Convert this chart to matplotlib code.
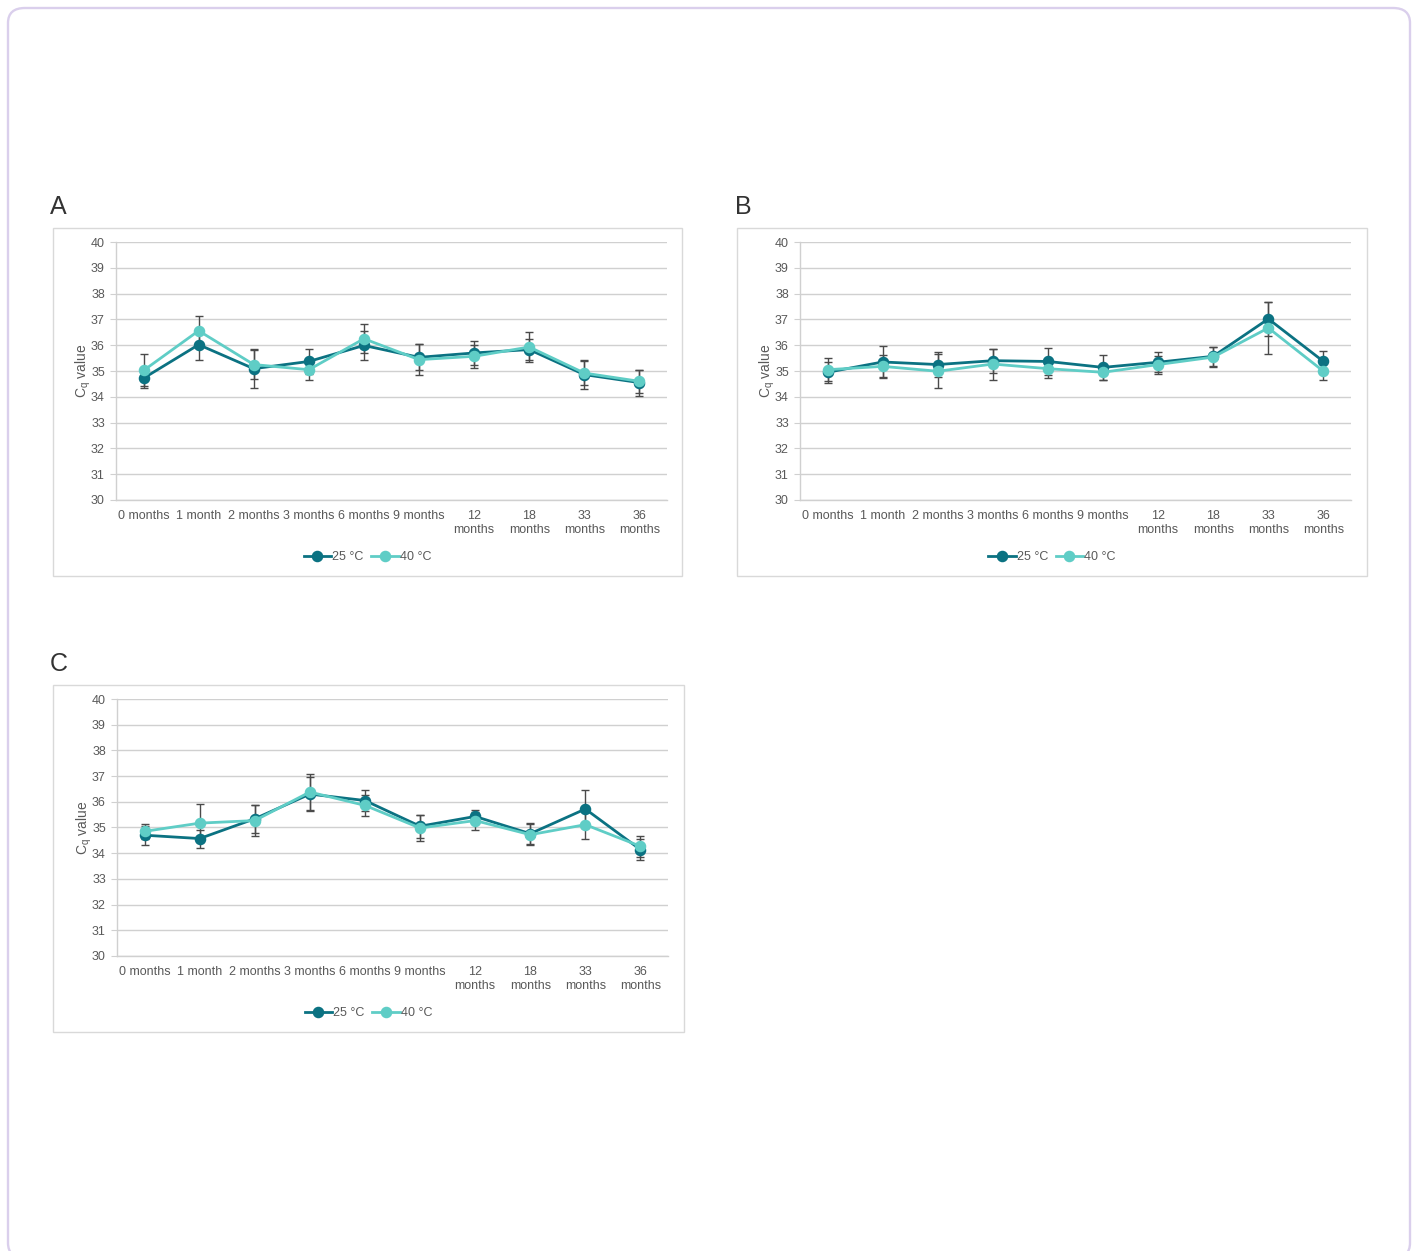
import matplotlib
matplotlib.use("Agg")
import matplotlib.pyplot as plt
from matplotlib.patches import FancyBboxPatch, Rectangle
from matplotlib.lines import Line2D

plt.rcParams['font.family'] = ['Liberation Sans', 'DejaVu Sans']
plt.rcParams['mathtext.fontset'] = 'custom'
plt.rcParams['mathtext.rm'] = 'Liberation Sans'
plt.rcParams['mathtext.it'] = 'Liberation Sans'

# Storage time points
timepoints = ["0 months", "1 month", "2 months", "3 months", "6 months", "9 months",
              "12\nmonths", "18\nmonths", "33\nmonths", "36\nmonths"]
series_labels = ["25 °C", "40 °C"]

# Panel A: mean Cq and standard deviation
a_25 = [34.72, 36.02, 35.09, 35.37, 35.99, 35.53, 35.70, 35.83, 34.86, 34.55]
a_25_sd = [0.38, 0.58, 0.75, 0.50, 0.55, 0.50, 0.47, 0.42, 0.55, 0.50]
a_40 = [35.02, 36.56, 35.25, 35.05, 36.25, 35.44, 35.57, 35.93, 34.92, 34.60]
a_40_sd = [0.62, 0.58, 0.55, 0.40, 0.57, 0.60, 0.45, 0.57, 0.48, 0.45]

# Panel B
b_25 = [34.95, 35.35, 35.25, 35.40, 35.37, 35.14, 35.34, 35.57, 37.02, 35.37]
b_25_sd = [0.40, 0.60, 0.50, 0.47, 0.52, 0.47, 0.38, 0.37, 0.65, 0.40]
b_40 = [35.05, 35.18, 34.99, 35.27, 35.09, 34.95, 35.25, 35.54, 36.67, 34.99]
b_40_sd = [0.45, 0.45, 0.65, 0.60, 0.35, 0.30, 0.35, 0.38, 1.00, 0.32]

# Panel C
c_25 = [34.70, 34.57, 35.34, 36.30, 36.05, 35.05, 35.43, 34.76, 35.72, 34.14]
c_25_sd = [0.37, 0.35, 0.55, 0.65, 0.40, 0.45, 0.27, 0.40, 0.75, 0.40]
c_40 = [34.85, 35.17, 35.27, 36.38, 35.86, 34.98, 35.27, 34.72, 35.11, 34.27]
c_40_sd = [0.30, 0.75, 0.60, 0.70, 0.42, 0.50, 0.35, 0.40, 0.55, 0.40]

panels = [
    ("A", a_25, a_25_sd, a_40, a_40_sd),
    ("B", b_25, b_25_sd, b_40, b_40_sd),
    ("C", c_25, c_25_sd, c_40, c_40_sd),
]

W, H = 1416, 1251
fig = plt.figure(figsize=(W / 100, H / 100), dpi=100)

def fx(px):
    return px / W

def fy(py):
    return 1 - py / H

DARK = "#0b7282"
LIGHT = "#5fcdc6"
TEXT = "#595959"
GRID = "#d0d0d0"
ERR = "#4a4a4a"

# Rounded outer frame
frame = FancyBboxPatch((fx(8), fy(1258)), fx(1402), (1250) / H,
                       boxstyle="round,pad=0,rounding_size=0.012",
                       transform=fig.transFigure, fill=False,
                       edgecolor="#dacfec", linewidth=1.7, clip_on=False)
fig.patches.append(frame)

# Layout per panel: (chart box l, t, r, b), (plot area l, t, r, b), letter position
layout = {
    "A": ((53, 228, 682, 576), (116, 242, 667, 500), (50, 214)),
    "B": ((737, 228, 1367, 576), (800, 242, 1351, 500), (735, 214)),
    "C": ((53, 685, 684, 1032), (117, 699, 668, 956), (50, 671)),
}

x = list(range(len(timepoints)))

for name, v25, s25, v40, s40 in panels:
    box, area, letter = layout[name]
    bl, bt, br, bb = box
    fig.patches.append(Rectangle((fx(bl), fy(bb)), (br - bl) / W, (bb - bt) / H,
                                 transform=fig.transFigure, fill=False,
                                 edgecolor="#d9d9d9", linewidth=1.0))
    fig.text(fx(letter[0]), fy(letter[1]), name, fontsize=18, color="#333333",
             ha="left", va="baseline")

    al, at, ar, ab = area
    ax = fig.add_axes([fx(al), fy(ab), (ar - al) / W, (ab - at) / H])
    ax.set_xlim(-0.5, len(timepoints) - 0.5)
    ax.set_ylim(30, 40)
    ax.set_yticks(range(30, 41))
    ax.yaxis.grid(True, color=GRID, linewidth=1.0)
    ax.set_axisbelow(True)
    for side in ["top", "right"]:
        ax.spines[side].set_visible(False)
    ax.spines["left"].set_color(GRID)
    ax.spines["bottom"].set_color(GRID)
    ax.spines["left"].set_linewidth(1.0)
    ax.spines["bottom"].set_linewidth(1.0)
    ax.set_xticks(x)
    ax.set_xticklabels(timepoints, fontsize=9, color=TEXT, linespacing=1.3)
    ax.tick_params(axis="x", length=0, pad=7)
    ax.tick_params(axis="y", length=4, color=GRID, labelsize=9, labelcolor=TEXT, pad=4)
    ax.set_ylabel(r"C$_\mathregular{q}$ value", fontsize=10, color=TEXT, labelpad=-1.5)

    ax.errorbar(x, v25, yerr=s25, fmt="none", ecolor=ERR, elinewidth=1.0,
                capsize=3, capthick=1.0, zorder=2)
    ax.errorbar(x, v40, yerr=s40, fmt="none", ecolor=ERR, elinewidth=1.0,
                capsize=3, capthick=1.0, zorder=2)
    ax.plot(x, v25, color=DARK, linewidth=2.0, marker="o", markersize=7.3, zorder=3)
    ax.plot(x, v40, color=LIGHT, linewidth=2.0, marker="o", markersize=7.3, zorder=4)

    handles = [Line2D([], [], color=DARK, linewidth=2.0, marker="o", markersize=7.3),
               Line2D([], [], color=LIGHT, linewidth=2.0, marker="o", markersize=7.3)]
    cx = (bl + br) / 2
    fig.legend(handles, series_labels, loc="center", ncol=2,
               bbox_to_anchor=(fx(cx), fy(bb - 19)), frameon=False,
               fontsize=9, labelcolor=TEXT, handlelength=2.2, handletextpad=0.1,
               columnspacing=0.6)

fig.savefig("out.png", dpi=100)
